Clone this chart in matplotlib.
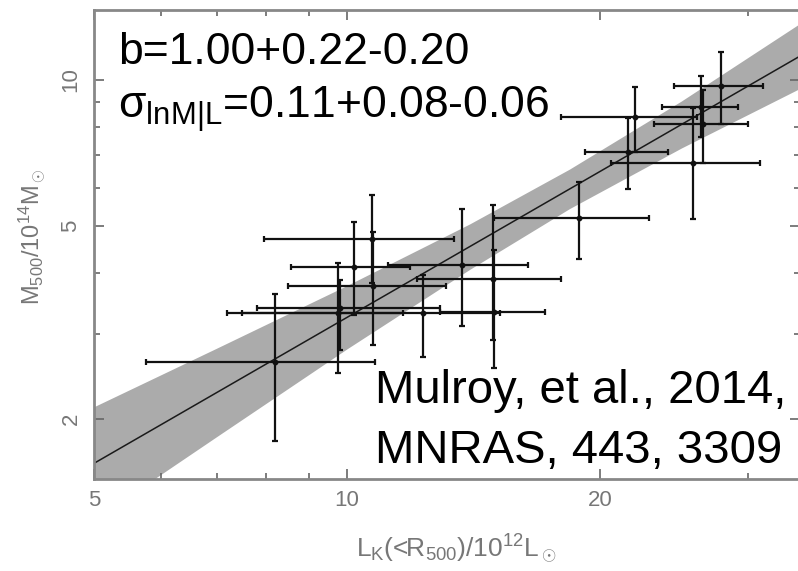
import matplotlib
matplotlib.use("Agg")
import matplotlib.pyplot as plt
from matplotlib.ticker import FixedLocator, NullFormatter, FixedFormatter

plt.rcParams['font.family'] = ['Liberation Sans', 'DejaVu Sans']
plt.rcParams['mathtext.fontset'] = 'custom'
plt.rcParams['mathtext.rm'] = 'Liberation Sans'
plt.rcParams['mathtext.it'] = 'Liberation Sans:italic'

# --- data (L_K in 1e12 Lsun, M500 in 1e14 Msun) ---
lum = [8.2, 9.75, 9.8, 12.3, 14.95, 14.9, 10.2, 10.7, 10.75, 13.7,
       18.9, 22.0, 21.6, 25.8, 26.4, 27.9, 26.5]
lum_lo = [5.77, 7.20, 7.81, 7.50, 12.9, 12.1, 8.57, 7.97, 8.50, 11.2,
          14.95, 18.0, 19.2, 20.6, 23.7, 24.5, 23.2]
lum_hi = [10.8, 11.65, 12.9, 15.2, 17.2, 18.0, 11.9, 13.4, 13.1, 16.4,
          22.9, 26.1, 24.1, 31.0, 29.2, 31.3, 30.0]
mass = [2.62, 3.31, 3.39, 3.31, 3.33, 3.89, 4.12, 4.70, 3.76, 4.16,
        5.19, 8.39, 7.10, 6.74, 8.80, 9.70, 8.11]
mass_lo = [1.80, 2.49, 2.78, 2.68, 2.55, 2.91, 3.28, 3.82, 2.84, 3.11,
           4.28, 7.10, 5.96, 5.16, 7.63, 8.11, 6.74]
mass_hi = [3.62, 4.19, 3.87, 3.96, 4.46, 5.53, 5.10, 5.79, 4.86, 5.42,
           6.16, 9.68, 8.35, 8.76, 10.2, 11.4, 9.54]

# best-fit relation and its shaded band (read at a few luminosities)
fit_L = [5.0, 34.6]
fit_M = [1.62, 11.2]
band_L = [5.0, 7.0, 10.0, 14.0, 18.4, 25.0, 34.6]
band_upper = [2.12, 2.80, 3.77, 5.05, 6.55, 9.05, 13.08]
band_lower = [1.24, 1.84, 2.79, 4.07, 5.43, 7.24, 9.61]

fig = plt.figure(figsize=(7.98, 5.71), dpi=100)
ax = fig.add_axes([94 / 798, 92 / 571, 706 / 798, 469 / 571])
ax.set_xscale('log')
ax.set_yscale('log')

ax.fill_between(band_L, band_lower, band_upper, color='#ababab', lw=0, zorder=1)
ax.plot(fit_L, fit_M, color='#1a1a1a', lw=1.1, zorder=2)

xerr = [[l - lo for l, lo in zip(lum, lum_lo)], [hi - l for l, hi in zip(lum, lum_hi)]]
yerr = [[m - lo for m, lo in zip(mass, mass_lo)], [hi - m for m, hi in zip(mass, mass_hi)]]
ax.errorbar(lum, mass, xerr=xerr, yerr=yerr, fmt='o', ms=3.2, color='#111111',
            ecolor='#111111', elinewidth=1.6, capsize=2.5, capthick=1.6, zorder=3)

ax.set_xlim(5, 34.6)
ax.set_ylim(1.504, 13.94)

ax.xaxis.set_major_locator(FixedLocator([5, 10, 20]))
ax.xaxis.set_major_formatter(FixedFormatter(['5', '10', '20']))
ax.xaxis.set_minor_locator(FixedLocator([6, 7, 8, 9, 30]))
ax.xaxis.set_minor_formatter(NullFormatter())
ax.yaxis.set_major_locator(FixedLocator([2, 5, 10]))
ax.yaxis.set_major_formatter(FixedFormatter(['2', '5', '10']))
ax.yaxis.set_minor_locator(FixedLocator([3, 4, 6, 7, 8, 9]))
ax.yaxis.set_minor_formatter(NullFormatter())

ax.tick_params(which='both', direction='in', top=True, right=True,
               color='#666666', width=1.2, labelcolor='#777777', labelsize=16)
ax.tick_params(which='major', length=7)
ax.tick_params(which='minor', length=4.5)
ax.tick_params(axis='x', pad=8)
ax.tick_params(axis='y', pad=9, labelrotation=90)
for lab in ax.get_yticklabels():
    lab.set_va('center')
for sp in ax.spines.values():
    sp.set_color('#888888')
    sp.set_linewidth(2.0)

fig.text(456 / 798, 1 - 549 / 571, r'L$_\mathrm{K}$(<R$_\mathrm{500}$)/10$^\mathrm{12}$L$_\odot$',
         ha='center', va='center', fontsize=19, color='#777777')
fig.text(32 / 798, 1 - 237 / 571, r'M$_\mathrm{500}$/10$^\mathrm{14}$M$_\odot$',
         ha='center', va='center', rotation=90, fontsize=17, color='#777777')

fig.text(118 / 798, 1 - 64 / 571, 'b=1.00+0.22-0.20', fontsize=32,
         va='baseline', ha='left', color='black')
fig.text(118 / 798, 1 - 118 / 571, r'σ$_\mathrm{lnM|L}$=0.11+0.08-0.06', fontsize=32,
         va='baseline', ha='left', color='black')
fig.text(375 / 798, 1 - 403 / 571, 'Mulroy, et al., 2014,', fontsize=34,
         va='baseline', ha='left', color='black')
fig.text(375 / 798, 1 - 463 / 571, 'MNRAS, 443, 3309', fontsize=34,
         va='baseline', ha='left', color='black')

fig.savefig('out.png', dpi=100)
